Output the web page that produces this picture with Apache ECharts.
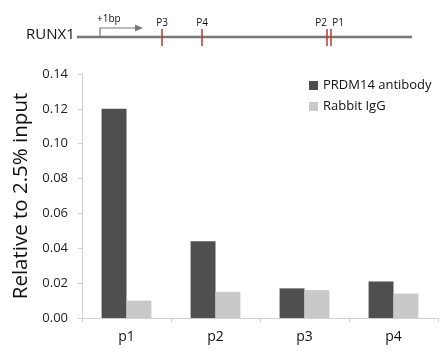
<!DOCTYPE html>
<html>
<head>
<meta charset="utf-8">
<script src="https://cdn.jsdelivr.net/npm/echarts@6/dist/echarts.min.js"></script>
<style>
html, body { margin: 0; padding: 0; background: #fff; }
#chart { width: 444px; height: 350px; }
</style>
</head>
<body>
<div id="chart"></div>
<script>
'use strict';
var categories = ['p1', 'p2', 'p3', 'p4'];
var prdm14 = [0.120, 0.044, 0.017, 0.021];
var rabbitIgG = [0.010, 0.015, 0.016, 0.014];
var yTicks = [0, 0.02, 0.04, 0.06, 0.08, 0.10, 0.12, 0.14];

var FONT = '"Open Sans", "Noto Sans", sans-serif';
var myChart = echarts.init(document.getElementById('chart'));

// top gene schematic
var geneY = 37;
var sites = [
	{name: 'P3', x: 162, lx: 162},
	{name: 'P4', x: 202, lx: 202},
	{name: 'P2', x: 327, lx: 321},
	{name: 'P1', x: 331, lx: 338}
];
var graphics = [
	{type: 'text', left: 26, top: geneY - 10, style: {text: 'RUNX1', font: '15px ' + FONT, fill: '#111'}},
	{type: 'line', shape: {x1: 77, y1: geneY, x2: 412, y2: geneY}, style: {stroke: '#777', lineWidth: 2.5}},
	{type: 'polyline', shape: {points: [[100, geneY], [100, 28], [140, 28]]}, style: {stroke: '#777', lineWidth: 1.2, fill: null}},
	{type: 'polygon', shape: {points: [[135, 24.5], [143, 28], [135, 31.5]]}, style: {fill: '#777'}},
	{type: 'text', left: 97, top: 14, style: {text: '+1bp', font: '10px ' + FONT, fill: '#111'}}
];
sites.forEach(function (s) {
	graphics.push({type: 'line', shape: {x1: s.x, y1: 29, x2: s.x, y2: 46}, style: {stroke: '#c0392b', lineWidth: 1.5}});
	graphics.push({type: 'text', x: s.lx, y: 23, style: {text: s.name, font: '10px ' + FONT, fill: '#111', align: 'center', verticalAlign: 'middle'}});
});

var option = {
	animation: false,
	textStyle: {fontFamily: FONT},
	graphic: graphics,
	legend: {
		orient: 'vertical',
		left: 304,
		top: 74,
		itemWidth: 9,
		itemHeight: 9,
		itemGap: 8,
		icon: 'rect',
		textStyle: {fontSize: 13, color: '#111', fontFamily: FONT},
		data: ['PRDM14 antibody', 'Rabbit IgG']
	},
	grid: {left: 82, right: 6, top: 74, bottom: 32, containLabel: false, outerBoundsMode: 'none'},
	xAxis: {
		type: 'category',
		data: categories,
		axisLine: {lineStyle: {color: '#cfcfcf', width: 1}},
		axisTick: {show: true, length: 4, lineStyle: {color: '#cfcfcf'}},
		axisLabel: {fontSize: 14, color: '#111', margin: 12}
	},
	yAxis: {
		type: 'value',
		min: 0,
		max: yTicks[yTicks.length - 1],
		interval: 0.02,
		name: 'Relative to 2.5% input',
		nameLocation: 'middle',
		nameGap: 48,
		nameTextStyle: {fontSize: 20.5, color: '#111', fontFamily: FONT},
		axisLine: {show: true, lineStyle: {color: '#cfcfcf'}},
		axisTick: {show: true, length: 4, lineStyle: {color: '#cfcfcf'}},
		splitLine: {show: false},
		axisLabel: {
			fontSize: 13,
			color: '#222',
			margin: 14,
			formatter: function (v) { return v.toFixed(2); }
		}
	},
	series: [
		{
			name: 'PRDM14 antibody',
			type: 'bar',
			data: prdm14,
			barWidth: '28%',
			barGap: '0%',
			itemStyle: {color: '#4f4f4f'}
		},
		{
			name: 'Rabbit IgG',
			type: 'bar',
			data: rabbitIgG,
			barWidth: '28%',
			barGap: '0%',
			itemStyle: {color: '#c9c9c9'}
		}
	]
};
myChart.setOption(option);
</script>
</body>
</html>
